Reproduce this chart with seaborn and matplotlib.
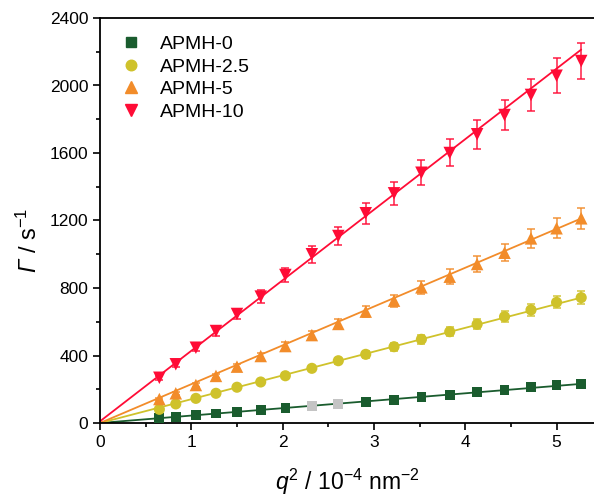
import numpy as np
import pandas as pd
import matplotlib
matplotlib.use("Agg")
import matplotlib.pyplot as plt
from matplotlib.lines import Line2D
from matplotlib.ticker import MultipleLocator
import seaborn as sns

# --- data ---
q2 = [0.65, 0.83, 1.05, 1.27, 1.50, 1.76, 2.03, 2.32, 2.61, 2.91,
      3.22, 3.52, 3.83, 4.13, 4.43, 4.72, 5.00, 5.27]

gamma_0 = [28, 37, 47, 57, 65, 77, 87, 101, 111, 123, 136, 152, 166, 182, 196, 212, 225, 231]
gamma_25 = [81, 113, 146, 176, 212, 243, 280, 324, 369, 407, 452, 496, 541, 585, 630, 670, 715, 743]
gamma_5 = [142, 176, 225, 279, 334, 397, 456, 521, 587, 660, 725, 804, 867, 942, 1009, 1094, 1154, 1213]
gamma_10 = [268, 348, 446, 545, 646, 749, 877, 1000, 1108, 1243, 1361, 1483, 1600, 1711, 1825, 1944, 2058, 2145]

err_0 = [1.5, 2, 2.5, 3, 3, 4, 4, 5, 6, 6, 7, 8, 8, 9, 10, 11, 11, 12]
err_25 = [4, 6, 7, 9, 11, 12, 14, 16, 18, 20, 23, 25, 27, 29, 32, 34, 36, 37]
err_5 = [7, 9, 11, 14, 17, 20, 23, 26, 29, 33, 36, 40, 43, 47, 50, 55, 58, 61]
err_10 = [13, 17, 22, 27, 32, 37, 44, 50, 55, 62, 68, 74, 80, 86, 91, 97, 103, 108]

# points of APMH-0 shown in grey (excluded)
grey_idx = [7, 8]

# linear fits (slope, intercept)
fit_slope = [44, 141, 230, 418]
fit_icpt = [0, 0, 0, 10]

labels = ["APMH-0", "APMH-2.5", "APMH-5", "APMH-10"]
colors = ["#1a5c2e", "#cfc22b", "#f28c2a", "#ff0c36"]
markers = ["s", "o", "^", "v"]
msizes = [7, 8, 9, 9]

# --- style ---
sns.set_style("ticks", {"axes.edgecolor": "black", "text.color": "black",
                        "xtick.color": "black", "ytick.color": "black",
                        "axes.labelcolor": "black"})
plt.rcParams["font.family"] = ["Liberation Sans", "DejaVu Sans"]
plt.rcParams["mathtext.fontset"] = "custom"
plt.rcParams["mathtext.rm"] = "Liberation Sans"
plt.rcParams["mathtext.it"] = "Liberation Sans:italic"
plt.rcParams["mathtext.sf"] = "Liberation Sans:italic"  # used for the italic Gamma

fig = plt.figure(figsize=(5.94, 4.98), dpi=100)
ax = fig.add_axes([100 / 594, 75 / 498, 494 / 594, 405 / 498])

series = [gamma_0, gamma_25, gamma_5, gamma_10]
errors = [err_0, err_25, err_5, err_10]

handles = []
for i in range(4):
    # fit line
    xl = np.array([0, q2[-1]])
    fit_df = pd.DataFrame({"x": xl, "y": fit_slope[i] * xl + fit_icpt[i]})
    sns.lineplot(data=fit_df, x="x", y="y", color=colors[i], lw=1.3, ax=ax, zorder=2)

    # error bars
    ax.errorbar(q2, series[i], yerr=errors[i], fmt="none", ecolor=colors[i],
                elinewidth=1.2, capsize=3, capthick=1.2, alpha=0.85, zorder=3)

    df = pd.DataFrame({"x": q2, "y": series[i]})
    if i == 0:
        mask = np.isin(np.arange(len(q2)), grey_idx)
        sns.scatterplot(data=df[~mask], x="x", y="y", marker=markers[i], color=colors[i],
                        s=msizes[i] ** 2, edgecolor="none", ax=ax, zorder=4)
        sns.scatterplot(data=df[mask], x="x", y="y", marker=markers[i], color="#c4c4c4",
                        s=msizes[i] ** 2, edgecolor="none", ax=ax, zorder=4)
    else:
        sns.scatterplot(data=df, x="x", y="y", marker=markers[i], color=colors[i],
                        s=msizes[i] ** 2, edgecolor="none", ax=ax, zorder=4)

    handles.append(Line2D([], [], ls="none", marker=markers[i], color=colors[i],
                          markersize=msizes[i] * 0.95, label=labels[i]))

ax.set_xlim(0, 5.41)
ax.set_ylim(0, 2400)
ax.xaxis.set_major_locator(MultipleLocator(1))
ax.xaxis.set_minor_locator(MultipleLocator(0.5))
ax.yaxis.set_major_locator(MultipleLocator(400))
ax.yaxis.set_minor_locator(MultipleLocator(200))
ax.tick_params(which="major", length=5, width=1.2, labelsize=12.5, direction="out",
               colors="black")
ax.tick_params(which="minor", length=3, width=1.2, direction="out", colors="black")

for s in ["left", "bottom", "top"]:
    ax.spines[s].set_linewidth(1.3)
    ax.spines[s].set_color("black")
    ax.spines[s].set_visible(True)
ax.spines["right"].set_visible(False)
ax.tick_params(top=False, which="both")

ax.set_xlabel(r"$q^{2}$ / 10$^{-4}$ nm$^{-2}$", fontsize=16.5, labelpad=12, color="black")
ax.set_ylabel(r"$\mathsf{Γ}$ / s$^{-1}$", fontsize=17, labelpad=6, color="black")
ax.yaxis.set_label_coords(-0.118, 0.45)

leg = ax.legend(handles=handles, loc="upper left", bbox_to_anchor=(0.012, 0.99), frameon=False,
                fontsize=14, handletextpad=0.9, labelspacing=0.25, borderaxespad=0.3,
                handlelength=1.2)
for t in leg.get_texts():
    t.set_color("black")

fig.savefig("out.png", dpi=100)
